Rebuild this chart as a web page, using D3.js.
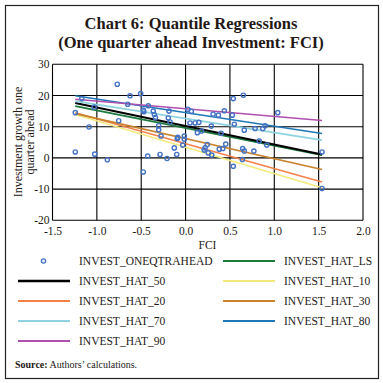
<!DOCTYPE html>
<html><head><meta charset="utf-8">
<script src="https://cdn.jsdelivr.net/npm/d3@7"></script>
<style>body{margin:0;background:#fff}svg{display:block}</style>
</head><body>
<svg id="c" width="383" height="383"></svg>
<script>
// ---- data ----
const fciX = [-1.243,-1.243,-1.17,-1.088,-1.03,-1.024,-0.882,-0.77,-0.754,-0.652,-0.626,-0.506,-0.476,-0.47,-0.476,-0.427,-0.42,-0.364,-0.352,-0.34,-0.303,-0.303,-0.288,-0.277,-0.209,-0.195,-0.187,-0.175,-0.127,-0.1,-0.093,-0.088,-0.032,-0.014,-0.014,0.025,0.065,0.05,0.107,0.15,0.133,0.18,0.22,0.21,0.245,0.256,0.295,0.29,0.31,0.37,0.38,0.42,0.4,0.437,0.453,0.527,0.538,0.538,0.55,0.64,0.644,0.651,0.662,0.662,0.77,0.783,0.83,0.87,0.896,0.915,1.039,1.538,1.538];
const investY = [14.5,1.9,19.0,9.9,16.3,1.2,-0.6,23.6,11.9,17.2,19.9,20.6,15.3,14.8,-4.5,0.6,16.7,15.0,13.9,12.9,10.3,9.0,1.1,7.0,-0.2,12.8,15.0,11.5,3.2,1.1,6.2,6.6,4.1,7.0,6.0,15.6,14.9,11.2,11.2,11.4,8.1,8.6,3.2,2.5,4.3,1.6,0.9,10.2,14.0,13.7,2.8,3.0,7.9,15.1,4.4,13.7,19.0,-2.7,10.8,-0.5,3.0,20.1,8.9,2.2,2.2,9.4,5.4,9.4,10.3,4.1,14.5,1.9,-9.8];
const lineX = [-1.243, 1.538];
const hatLS = [16.6, 0.9];
const hat50 = [17.6, 1.1];
const hat10 = [13.9, -9.6];
const hat20 = [14.5, -7.7];
const hat30 = [14.2, -3.7];
const hat70 = [18.2, 5.7];
const hat80 = [19.9, 7.8];
const hat90 = [18.8, 12.0];
const xTicks = [-1.5,-1.0,-0.5,0.0,0.5,1.0,1.5,2.0];
const yTicks = [-20,-10,0,10,20,30];

const series = [
  {name:"INVEST_HAT_LS", v:hatLS, c:"#1b7a3c", w:1.6},
  {name:"INVEST_HAT_50", v:hat50, c:"#000000", w:2.2},
  {name:"INVEST_HAT_10", v:hat10, c:"#f3ea7e", w:1.6},
  {name:"INVEST_HAT_20", v:hat20, c:"#f4804a", w:1.6},
  {name:"INVEST_HAT_30", v:hat30, c:"#c8832c", w:1.6},
  {name:"INVEST_HAT_70", v:hat70, c:"#8ed3df", w:1.6},
  {name:"INVEST_HAT_80", v:hat80, c:"#1f78b8", w:1.6},
  {name:"INVEST_HAT_90", v:hat90, c:"#b04fae", w:1.6}
];

const svg = d3.select("#c");
const serif = "'Liberation Serif','DejaVu Serif',serif";
const ink = "#231815";

svg.append("rect").attr("x",5.5).attr("y",5.5).attr("width",373).attr("height",373)
  .attr("fill","none").attr("stroke","#222").attr("stroke-width",1.2);

const title = svg.append("text").attr("x",191).attr("text-anchor","middle")
  .attr("font-family",serif).attr("font-weight","bold").attr("font-size",16.5).attr("fill",ink);
title.append("tspan").attr("x",191).attr("y",29).text("Chart 6: Quantile Regressions");
title.append("tspan").attr("x",191).attr("y",48).text("(One quarter ahead Investment: FCI)");

const x = d3.scaleLinear().domain([-1.5,2.0]).range([52.5,363]);
const y = d3.scaleLinear().domain([-20,30]).range([220.3,64.3]);

// grid
const g = svg.append("g");
g.selectAll("line.vx").data(xTicks).join("line")
  .attr("x1",d=>x(d)).attr("x2",d=>x(d)).attr("y1",y(30)).attr("y2",y(-20))
  .attr("stroke","#000").attr("stroke-width",1.1);
g.selectAll("line.hy").data(yTicks).join("line")
  .attr("y1",d=>y(d)).attr("y2",d=>y(d)).attr("x1",x(-1.5)).attr("x2",x(2.0))
  .attr("stroke","#000").attr("stroke-width",1.1);

// axes labels
const xa = svg.append("g").attr("transform",`translate(0,${y(-20)})`)
  .call(d3.axisBottom(x).tickValues(xTicks).tickFormat(d3.format(".1f")).tickSize(0).tickPadding(7));
xa.select(".domain").remove();
xa.selectAll("text").attr("font-family",serif).attr("font-size",11.5).attr("fill",ink)
  .text(d=>d3.format(".1f")(d).replace("−","-"));
const ya = svg.append("g").attr("transform",`translate(${x(-1.5)},0)`)
  .call(d3.axisLeft(y).tickValues(yTicks).tickSize(0).tickPadding(3));
ya.select(".domain").remove();
ya.selectAll("text").attr("font-family",serif).attr("font-size",11.5).attr("fill",ink)
  .text(d=>String(d));

svg.append("text").attr("x",207.5).attr("y",249).attr("text-anchor","middle")
  .attr("font-family",serif).attr("font-size",11.5).attr("fill",ink).text("FCI");
const yt = svg.append("text").attr("transform","translate(0,142) rotate(-90)")
  .attr("text-anchor","middle").attr("font-family",serif).attr("font-size",12).attr("fill",ink);
yt.append("tspan").attr("x",0).attr("y",22).text("Investment growth one");
yt.append("tspan").attr("x",0).attr("y",34).text("quarter ahead");

// regression lines
const line = d3.line().x((d,i)=>x(lineX[i])).y(d=>y(d));
svg.append("g").selectAll("path").data(series).join("path")
  .attr("d",d=>line(d.v)).attr("fill","none").attr("stroke",d=>d.c).attr("stroke-width",d=>d.w);

// points
svg.append("g").selectAll("circle").data(fciX.map((v,i)=>[v,investY[i]])).join("circle")
  .attr("cx",d=>x(d[0])).attr("cy",d=>y(d[1])).attr("r",2.1)
  .attr("fill","none").attr("stroke","#4472c4").attr("stroke-width",1.4);

// legend
const leg = [
  {name:"INVEST_ONEQTRAHEAD", pt:true},
  series[0], series[1], series[2], series[3], series[4], series[5], series[6], series[7]
];
const lg = svg.append("g");
leg.forEach((d,i)=>{
  const col = i%2, row = Math.floor(i/2);
  const lx = col===0 ? 18 : 223, ly = 261 + row*20;
  if (d.pt) {
    lg.append("circle").attr("cx",43.5).attr("cy",ly).attr("r",2.1)
      .attr("fill","none").attr("stroke","#4472c4").attr("stroke-width",1.4);
  } else {
    lg.append("line").attr("x1",lx).attr("x2",lx+52).attr("y1",ly).attr("y2",ly)
      .attr("stroke",d.c).attr("stroke-width",d.w===2.2?2.4:2);
  }
  lg.append("text").attr("x",lx+61).attr("y",ly+4).attr("font-family",serif)
    .attr("font-size",11.5).attr("fill",ink).text(d.name);
});

const src = svg.append("text").attr("x",15).attr("y",368).attr("font-family",serif)
  .attr("font-size",10).attr("fill",ink);
src.append("tspan").attr("font-weight","bold").text("Source:");
src.append("tspan").text(" Authors’ calculations.");
</script>
</body></html>
